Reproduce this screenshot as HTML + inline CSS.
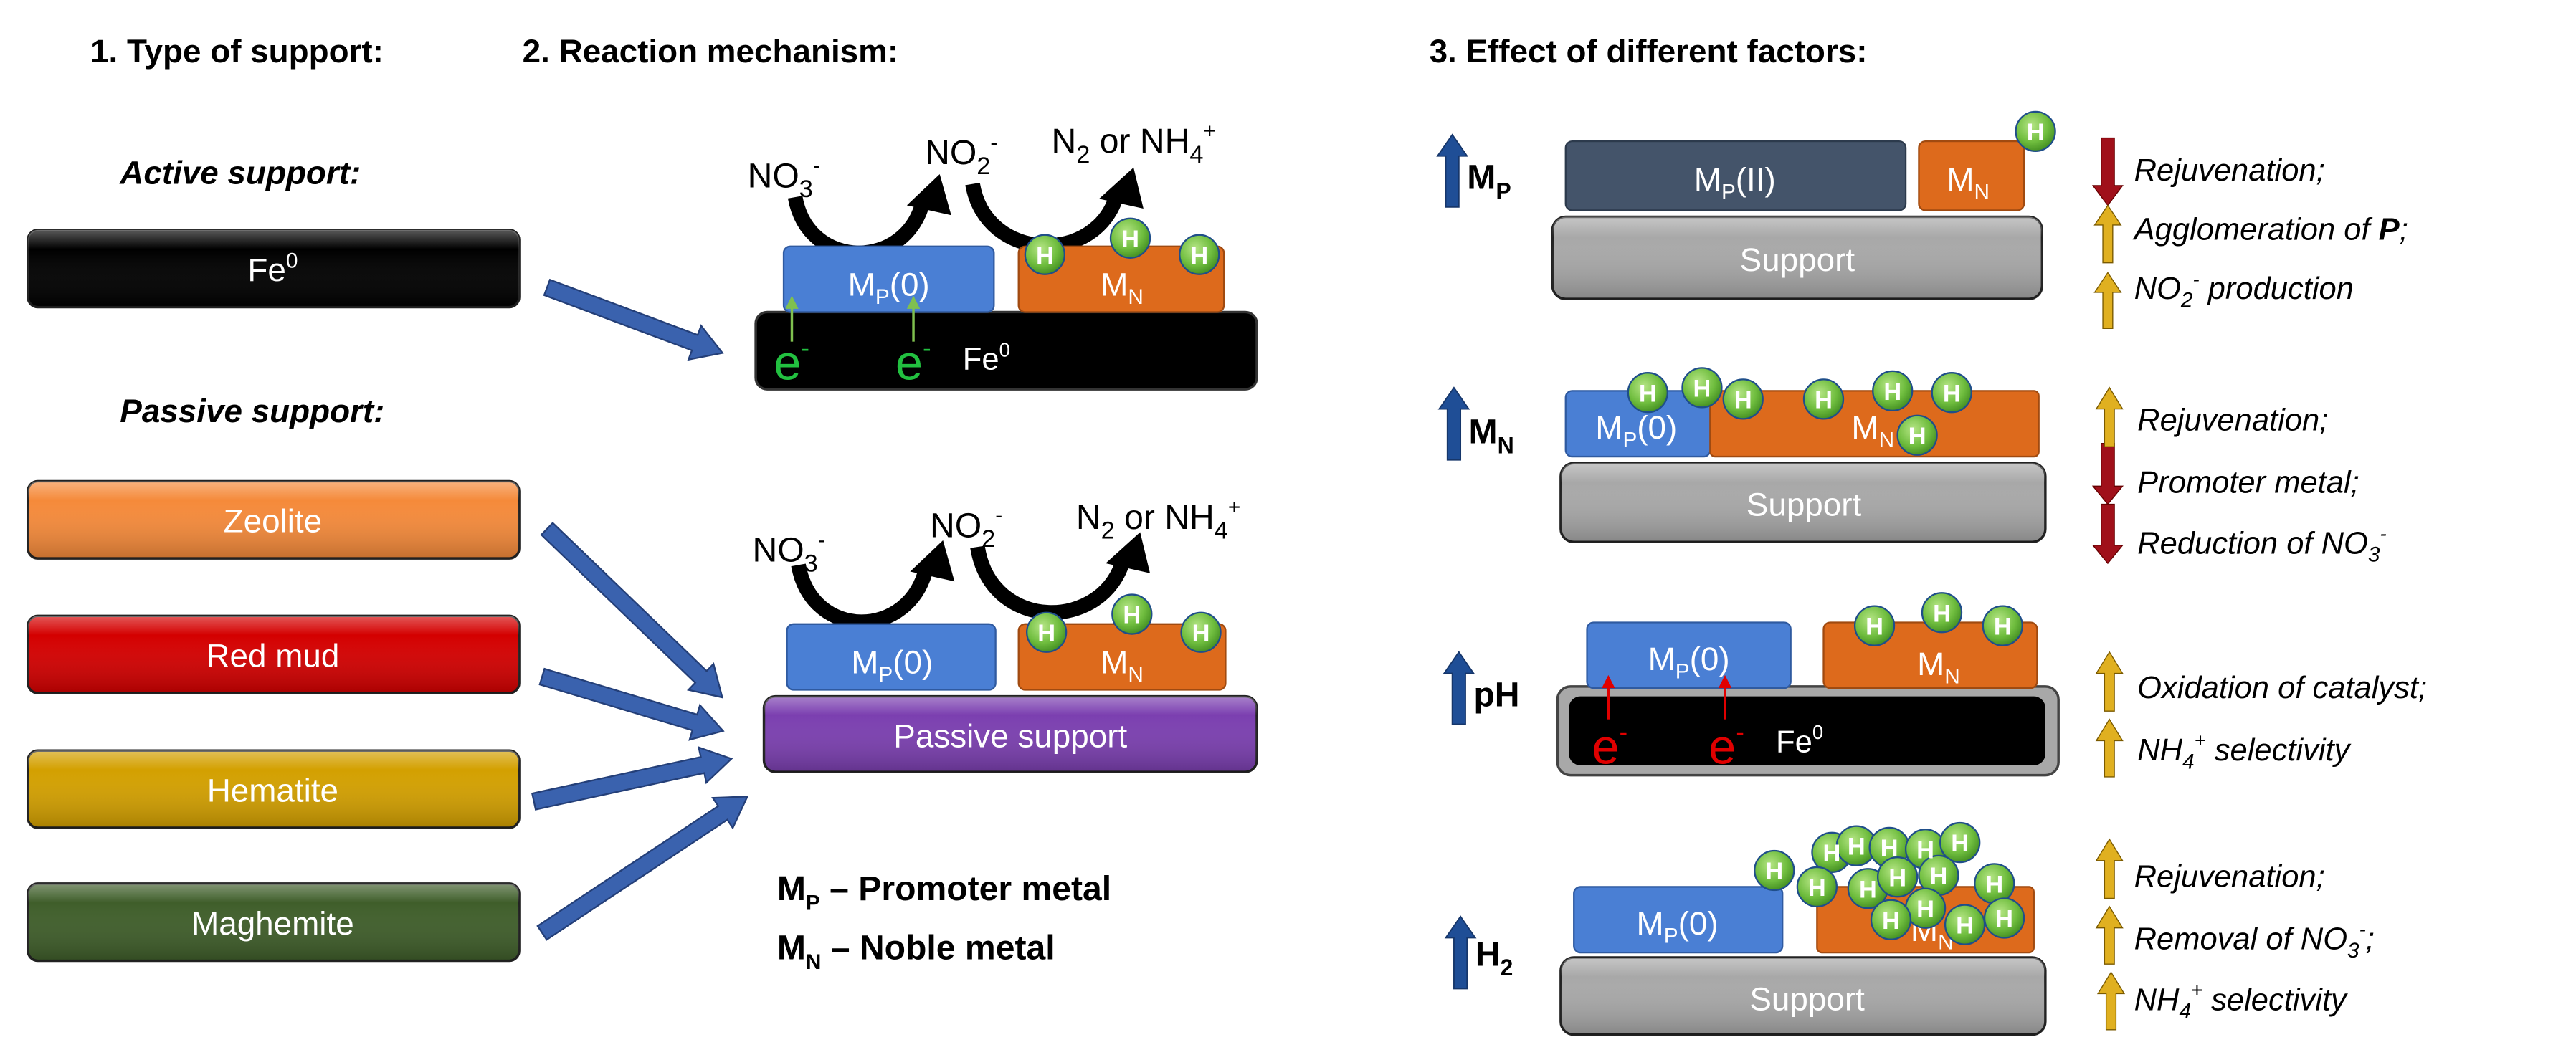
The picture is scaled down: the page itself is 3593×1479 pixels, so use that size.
<!DOCTYPE html>
<html><head><meta charset="utf-8"><style>
html,body{margin:0;padding:0;background:#fff}
svg{display:block}
text{font-family:"Liberation Sans",sans-serif}
circle{r:12px}
.h{font-weight:bold;font-size:20px;fill:#000}
.sub{font-weight:bold;font-style:italic;font-size:20px}
.bl{fill:#fff;font-size:20px;text-anchor:middle}
.it{font-style:italic;font-size:19px}
.hh{fill:#fff;font-size:15px;text-anchor:middle;font-weight:bold}
.ion{font-size:21px}
</style></head><body>
<svg width="3593" height="1479" viewBox="0 0 1568 645.4" xmlns="http://www.w3.org/2000/svg">
<defs>
<radialGradient id="hg" cx="0.4" cy="0.35" r="0.7"><stop offset="0" stop-color="#b5e585"/><stop offset="0.6" stop-color="#6fbd3e"/><stop offset="1" stop-color="#3f8a1f"/></radialGradient>
<linearGradient id="gl" x1="0" y1="0" x2="0" y2="1"><stop offset="0" stop-color="#fff" stop-opacity="0.35"/><stop offset="0.25" stop-color="#fff" stop-opacity="0"/><stop offset="1" stop-color="#000" stop-opacity="0.2"/></linearGradient>
</defs>

<text class="h" x="55" y="38">1. Type of support:</text>
<text class="h" x="318" y="38">2. Reaction mechanism:</text>
<text class="h" x="870" y="38">3. Effect of different factors:</text>
<text class="sub" x="73" y="112">Active support:</text>
<text class="sub" x="73" y="257">Passive support:</text>

<g stroke="#222" stroke-width="1.5">
<rect x="17" y="140" width="299" height="47" rx="6" fill="#000"/>
<rect x="17" y="293" width="299" height="47" rx="6" fill="#f58a3a"/>
<rect x="17" y="375" width="299" height="47" rx="6" fill="#d40000"/>
<rect x="17" y="457" width="299" height="47" rx="6" fill="#d3a000"/>
<rect x="17" y="538" width="299" height="47" rx="6" fill="#3f5e2a"/>
</g>
<g fill="url(#gl)"><rect x="17" y="140" width="299" height="47" rx="6"/><rect x="17" y="293" width="299" height="47" rx="6"/><rect x="17" y="375" width="299" height="47" rx="6"/><rect x="17" y="457" width="299" height="47" rx="6"/><rect x="17" y="538" width="299" height="47" rx="6"/></g>
<text class="bl" x="166" y="171">Fe<tspan dy="-8" font-size="13">0</tspan></text>
<text class="bl" x="166" y="324">Zeolite</text>
<text class="bl" x="166" y="406">Red mud</text>
<text class="bl" x="166" y="488">Hematite</text>
<text class="bl" x="166" y="569">Maghemite</text>

<g fill="#3a62ae" stroke="#243f78" stroke-width="1">
<polygon transform="translate(333,175) rotate(20.5)" points="0,-5 96,-5 96,-11 114,0 96,11 96,5 0,5"/>
<polygon transform="translate(333,322) rotate(43.9)" points="0,-5 130,-5 130,-11 148,0 130,11 130,5 0,5"/>
<polygon transform="translate(330,412) rotate(16.7)" points="0,-5 97,-5 97,-11 115,0 97,11 97,5 0,5"/>
<polygon transform="translate(325,488) rotate(-12.2)" points="0,-5 105,-5 105,-11 123,0 105,11 105,5 0,5"/>
<polygon transform="translate(330,568) rotate(-33.6)" points="0,-5 132,-5 132,-11 150,0 132,11 132,5 0,5"/>
</g>

<!-- mechanism 1 -->
<text class="ion" x="455" y="114">NO<tspan dy="6" font-size="15">3</tspan><tspan dy="-15" font-size="13">-</tspan></text>
<text class="ion" x="563" y="100">NO<tspan dy="6" font-size="15">2</tspan><tspan dy="-15" font-size="13">-</tspan></text>
<text class="ion" x="640" y="93">N<tspan dy="6" font-size="15">2</tspan><tspan dy="-6"> or NH</tspan><tspan dy="6" font-size="15">4</tspan><tspan dy="-15" font-size="13">+</tspan></text>
<g fill="none" stroke="#000" stroke-width="9">
<path d="M484,120 C492,165 552,165 562,122"/>
<path d="M592,112 C600,160 668,162 680,118"/>
</g>
<polygon points="552,125 572,106 579,131" fill="#000"/>
<polygon points="669,121 690,102 696,127" fill="#000"/>
<rect x="460" y="190" width="305" height="47" rx="7" fill="#000" stroke="#333" stroke-width="1.5"/>
<rect x="477" y="150" width="128" height="40" rx="4" fill="#4a7fd4" stroke="#2f5aa0"/>
<rect x="620" y="150" width="125" height="40" rx="4" fill="#dd6a1c" stroke="#a04a10"/>
<text class="bl" x="541" y="180">M<tspan dy="5" font-size="13">P</tspan><tspan dy="-5">(0)</tspan></text>
<text class="bl" x="683" y="180">M<tspan dy="5" font-size="13">N</tspan></text>
<g stroke="#7fc04f" stroke-width="1.5"><line x1="482" y1="208" x2="482" y2="186"/><line x1="556" y1="208" x2="556" y2="186"/></g>
<polygon points="478,188 482,180 486,188" fill="#7fc04f"/><polygon points="552,188 556,180 560,188" fill="#7fc04f"/>
<text x="471" y="231" font-size="30" fill="#22c040">e<tspan dy="-14" font-size="15">-</tspan></text>
<text x="545" y="231" font-size="30" fill="#22c040">e<tspan dy="-14" font-size="15">-</tspan></text>
<text x="586" y="225" font-size="19" fill="#fff">Fe<tspan dy="-8" font-size="12">0</tspan></text>
<g stroke="#1f4e8a" stroke-width="1" fill="url(#hg)"><circle cx="636" cy="155" r="12"/><circle cx="688" cy="145" r="12"/><circle cx="730" cy="155" r="12"/></g>
<text class="hh" x="636" y="160.5">H</text><text class="hh" x="688" y="150.5">H</text><text class="hh" x="730" y="160.5">H</text>

<!-- mechanism 2 -->
<text class="ion" x="458" y="342">NO<tspan dy="6" font-size="15">3</tspan><tspan dy="-15" font-size="13">-</tspan></text>
<text class="ion" x="566" y="327">NO<tspan dy="6" font-size="15">2</tspan><tspan dy="-15" font-size="13">-</tspan></text>
<text class="ion" x="655" y="322">N<tspan dy="6" font-size="15">2</tspan><tspan dy="-6"> or NH</tspan><tspan dy="6" font-size="15">4</tspan><tspan dy="-15" font-size="13">+</tspan></text>
<g fill="none" stroke="#000" stroke-width="9">
<path d="M486,344 C494,390 554,390 564,345"/>
<path d="M595,333 C603,385 672,385 684,340"/>
</g>
<polygon points="554,348 574,329 581,354" fill="#000"/>
<polygon points="673,343 694,324 700,349" fill="#000"/>
<rect x="465" y="424" width="300" height="46" rx="7" fill="#7b3fb0" stroke="#222" stroke-width="1.5"/>
<rect x="465" y="424" width="300" height="46" rx="7" fill="url(#gl)"/>
<text class="bl" x="615" y="455">Passive support</text>
<rect x="479" y="380" width="127" height="40" rx="4" fill="#4a7fd4" stroke="#2f5aa0"/>
<rect x="620" y="380" width="126" height="40" rx="4" fill="#dd6a1c" stroke="#a04a10"/>
<text class="bl" x="543" y="410">M<tspan dy="5" font-size="13">P</tspan><tspan dy="-5">(0)</tspan></text>
<text class="bl" x="683" y="410">M<tspan dy="5" font-size="13">N</tspan></text>
<g stroke="#1f4e8a" stroke-width="1" fill="url(#hg)"><circle cx="637" cy="385" r="12"/><circle cx="689" cy="374" r="12"/><circle cx="731" cy="385" r="12"/></g>
<text class="hh" x="637" y="390.5">H</text><text class="hh" x="689" y="379.5">H</text><text class="hh" x="731" y="390.5">H</text>

<text x="473" y="548" font-size="21" font-weight="bold">M<tspan dy="6" font-size="13">P</tspan><tspan dy="-6"> – Promoter metal</tspan></text>
<text x="473" y="584" font-size="21" font-weight="bold">M<tspan dy="6" font-size="13">N</tspan><tspan dy="-6"> – Noble metal</tspan></text>

<g fill="#1f4e96" stroke="#16366a" stroke-width="0.8">
<polygon points="880,126 880,95 875,95 884,82 893,95 888,95 888,126"/>
<polygon points="881,280 881,249 876,249 885,236 894,249 889,249 889,280"/>
<polygon points="884,441 884,410 879,410 888,397 897,410 892,410 892,441"/>
<polygon points="885,602 885,571 880,571 889,558 898,571 893,571 893,602"/>
</g>
<text x="893" y="115" font-size="21" font-weight="bold">M<tspan dy="6" font-size="14">P</tspan></text>
<text x="894" y="270" font-size="21" font-weight="bold">M<tspan dy="6" font-size="14">N</tspan></text>
<text x="897" y="430" font-size="21" font-weight="bold">pH</text>
<text x="898" y="588" font-size="21" font-weight="bold">H<tspan dy="6" font-size="14">2</tspan></text>

<!-- row1 -->
<rect x="945" y="132" width="298" height="50" rx="8" fill="#a8a8a8" stroke="#222" stroke-width="1.5"/>
<rect x="945" y="132" width="298" height="50" rx="8" fill="url(#gl)"/>
<text class="bl" x="1094" y="165" font-size="21">Support</text>
<rect x="953" y="86" width="207" height="42" rx="4" fill="#44546a" stroke="#2c3a4c"/>
<rect x="1168" y="86" width="64" height="42" rx="4" fill="#dd6a1c" stroke="#a04a10"/>
<text class="bl" x="1056" y="116">M<tspan dy="5" font-size="13">P</tspan><tspan dy="-5">(II)</tspan></text>
<text class="bl" x="1198" y="116">M<tspan dy="5" font-size="13">N</tspan></text>
<circle cx="1239" cy="80" r="12" fill="url(#hg)" stroke="#1f4e8a"/><text class="hh" x="1239" y="85.5">H</text>

<!-- row2 -->
<rect x="950" y="282" width="295" height="48" rx="8" fill="#a8a8a8" stroke="#222" stroke-width="1.5"/>
<rect x="950" y="282" width="295" height="48" rx="8" fill="url(#gl)"/>
<text class="bl" x="1098" y="314" font-size="21">Support</text>
<rect x="953" y="238" width="88" height="40" rx="4" fill="#4a7fd4" stroke="#2f5aa0"/>
<rect x="1041" y="238" width="200" height="40" rx="3" fill="#dd6a1c" stroke="#a04a10"/>
<text class="bl" x="996" y="267">M<tspan dy="5" font-size="13">P</tspan><tspan dy="-5">(0)</tspan></text>
<text class="bl" x="1140" y="267">M<tspan dy="5" font-size="13">N</tspan></text>
<g stroke="#1f4e8a" stroke-width="1" fill="url(#hg)">
<circle cx="1003" cy="239" r="12"/><circle cx="1036" cy="236" r="12"/><circle cx="1061" cy="243" r="12"/><circle cx="1110" cy="243" r="12"/><circle cx="1152" cy="238" r="12"/><circle cx="1188" cy="239" r="12"/><circle cx="1167" cy="265" r="12"/>
</g>
<text class="hh" x="1003" y="244.5">H</text><text class="hh" x="1036" y="241.5">H</text><text class="hh" x="1061" y="248.5">H</text><text class="hh" x="1110" y="248.5">H</text><text class="hh" x="1152" y="243.5">H</text><text class="hh" x="1188" y="244.5">H</text><text class="hh" x="1167" y="270.5">H</text>

<!-- row3 -->
<rect x="948" y="418" width="305" height="54" rx="8" fill="#a8a8a8" stroke="#444" stroke-width="1.5"/>
<rect x="955" y="424" width="290" height="42" rx="7" fill="#000"/>
<rect x="966" y="379" width="124" height="40" rx="4" fill="#4a7fd4" stroke="#2f5aa0"/>
<rect x="1110" y="379" width="130" height="40" rx="4" fill="#dd6a1c" stroke="#a04a10"/>
<text class="bl" x="1028" y="408">M<tspan dy="5" font-size="13">P</tspan><tspan dy="-5">(0)</tspan></text>
<text class="bl" x="1180" y="411">M<tspan dy="5" font-size="13">N</tspan></text>
<g stroke="#e00000" stroke-width="1.5"><line x1="979" y1="438" x2="979" y2="418"/><line x1="1050" y1="438" x2="1050" y2="418"/></g>
<polygon points="975,419 979,411 983,419" fill="#e00000"/><polygon points="1046,419 1050,411 1054,419" fill="#e00000"/>
<text x="969" y="465" font-size="30" fill="#e00000">e<tspan dy="-14" font-size="15">-</tspan></text>
<text x="1040" y="465" font-size="30" fill="#e00000">e<tspan dy="-14" font-size="15">-</tspan></text>
<text x="1081" y="458" font-size="19" fill="#fff">Fe<tspan dy="-8" font-size="12">0</tspan></text>
<g stroke="#1f4e8a" stroke-width="1" fill="url(#hg)"><circle cx="1141" cy="381" r="12"/><circle cx="1182" cy="373" r="12"/><circle cx="1219" cy="381" r="12"/></g>
<text class="hh" x="1141" y="386.5">H</text><text class="hh" x="1182" y="378.5">H</text><text class="hh" x="1219" y="386.5">H</text>

<!-- row4 -->
<rect x="950" y="583" width="295" height="47" rx="8" fill="#a8a8a8" stroke="#222" stroke-width="1.5"/>
<rect x="950" y="583" width="295" height="47" rx="8" fill="url(#gl)"/>
<text class="bl" x="1100" y="615" font-size="21">Support</text>
<rect x="958" y="540" width="127" height="40" rx="4" fill="#4a7fd4" stroke="#2f5aa0"/>
<rect x="1106" y="540" width="132" height="40" rx="3" fill="#dd6a1c" stroke="#a04a10"/>
<text class="bl" x="1021" y="569">M<tspan dy="5" font-size="13">P</tspan><tspan dy="-5">(0)</tspan></text>
<text class="bl" x="1176" y="573">M<tspan dy="5" font-size="13">N</tspan></text>
<g stroke="#1f4e8a" stroke-width="1" fill="url(#hg)">
<circle cx="1115" cy="519" r="12"/><circle cx="1130" cy="515" r="12"/><circle cx="1150" cy="516" r="12"/><circle cx="1172" cy="517" r="12"/><circle cx="1193" cy="513" r="12"/><circle cx="1080" cy="530" r="12"/>
<circle cx="1180" cy="533" r="12"/><circle cx="1106" cy="540" r="12"/><circle cx="1137" cy="541" r="12"/><circle cx="1155" cy="534" r="12"/><circle cx="1214" cy="538" r="12"/>
<circle cx="1172" cy="553" r="12"/><circle cx="1196" cy="563" r="12"/><circle cx="1151" cy="560" r="12"/><circle cx="1220" cy="559" r="12"/>
</g>
<text class="hh" x="1115" y="524.5">H</text><text class="hh" x="1130" y="520.5">H</text><text class="hh" x="1150" y="521.5">H</text><text class="hh" x="1172" y="522.5">H</text><text class="hh" x="1193" y="518.5">H</text><text class="hh" x="1080" y="535.5">H</text>
<text class="hh" x="1180" y="538.5">H</text><text class="hh" x="1106" y="545.5">H</text><text class="hh" x="1137" y="546.5">H</text><text class="hh" x="1155" y="539.5">H</text><text class="hh" x="1214" y="543.5">H</text>
<text class="hh" x="1172" y="558.5">H</text><text class="hh" x="1196" y="568.5">H</text><text class="hh" x="1151" y="565.5">H</text><text class="hh" x="1220" y="564.5">H</text>

<g fill="#a0101a" stroke="#600" stroke-width="0.6">
<polygon points="1279,84 1287,84 1287,113 1292,113 1283,125 1274,113 1279,113"/>
<polygon points="1279,270 1287,270 1287,296 1292,296 1283,307 1274,296 1279,296"/>
<polygon points="1279,307 1287,307 1287,332 1292,332 1283,343 1274,332 1279,332"/>
</g>
<g fill="#e0b020" stroke="#7a5a00" stroke-width="0.6">
<polygon points="1280,160 1280,137 1275,137 1283,125 1291,137 1286,137 1286,160"/>
<polygon points="1280,200 1280,178 1275,178 1283,166 1291,178 1286,178 1286,200"/>
<polygon points="1281,272 1281,249 1276,249 1284,236 1292,249 1287,249 1287,272"/>
<polygon points="1281,433 1281,410 1276,410 1284,397 1292,410 1287,410 1287,433"/>
<polygon points="1281,473 1281,451 1276,451 1284,438 1292,451 1287,451 1287,473"/>
<polygon points="1281,547 1281,524 1276,524 1284,511 1292,524 1287,524 1287,547"/>
<polygon points="1281,587 1281,565 1276,565 1284,552 1292,565 1287,565 1287,587"/>
<polygon points="1282,627 1282,605 1277,605 1285,592 1293,605 1288,605 1288,627"/>
</g>
<text class="it" x="1299" y="110">Rejuvenation;</text>
<text class="it" x="1299" y="146">Agglomeration of <tspan font-weight="bold">P</tspan>;</text>
<text class="it" x="1299" y="182">NO<tspan dy="5" font-size="13">2</tspan><tspan dy="-13" font-size="12">-</tspan><tspan dy="8"> production</tspan></text>
<text class="it" x="1301" y="262">Rejuvenation;</text>
<text class="it" x="1301" y="300">Promoter metal;</text>
<text class="it" x="1301" y="337">Reduction of NO<tspan dy="5" font-size="13">3</tspan><tspan dy="-13" font-size="12">-</tspan></text>
<text class="it" x="1301" y="425">Oxidation of catalyst;</text>
<text class="it" x="1301" y="463">NH<tspan dy="5" font-size="13">4</tspan><tspan dy="-13" font-size="12">+</tspan><tspan dy="8"> selectivity</tspan></text>
<text class="it" x="1299" y="540">Rejuvenation;</text>
<text class="it" x="1299" y="578">Removal of NO<tspan dy="5" font-size="13">3</tspan><tspan dy="-13" font-size="12">-</tspan><tspan dy="8">;</tspan></text>
<text class="it" x="1299" y="615">NH<tspan dy="5" font-size="13">4</tspan><tspan dy="-13" font-size="12">+</tspan><tspan dy="8"> selectivity</tspan></text>
</svg>
</body></html>
